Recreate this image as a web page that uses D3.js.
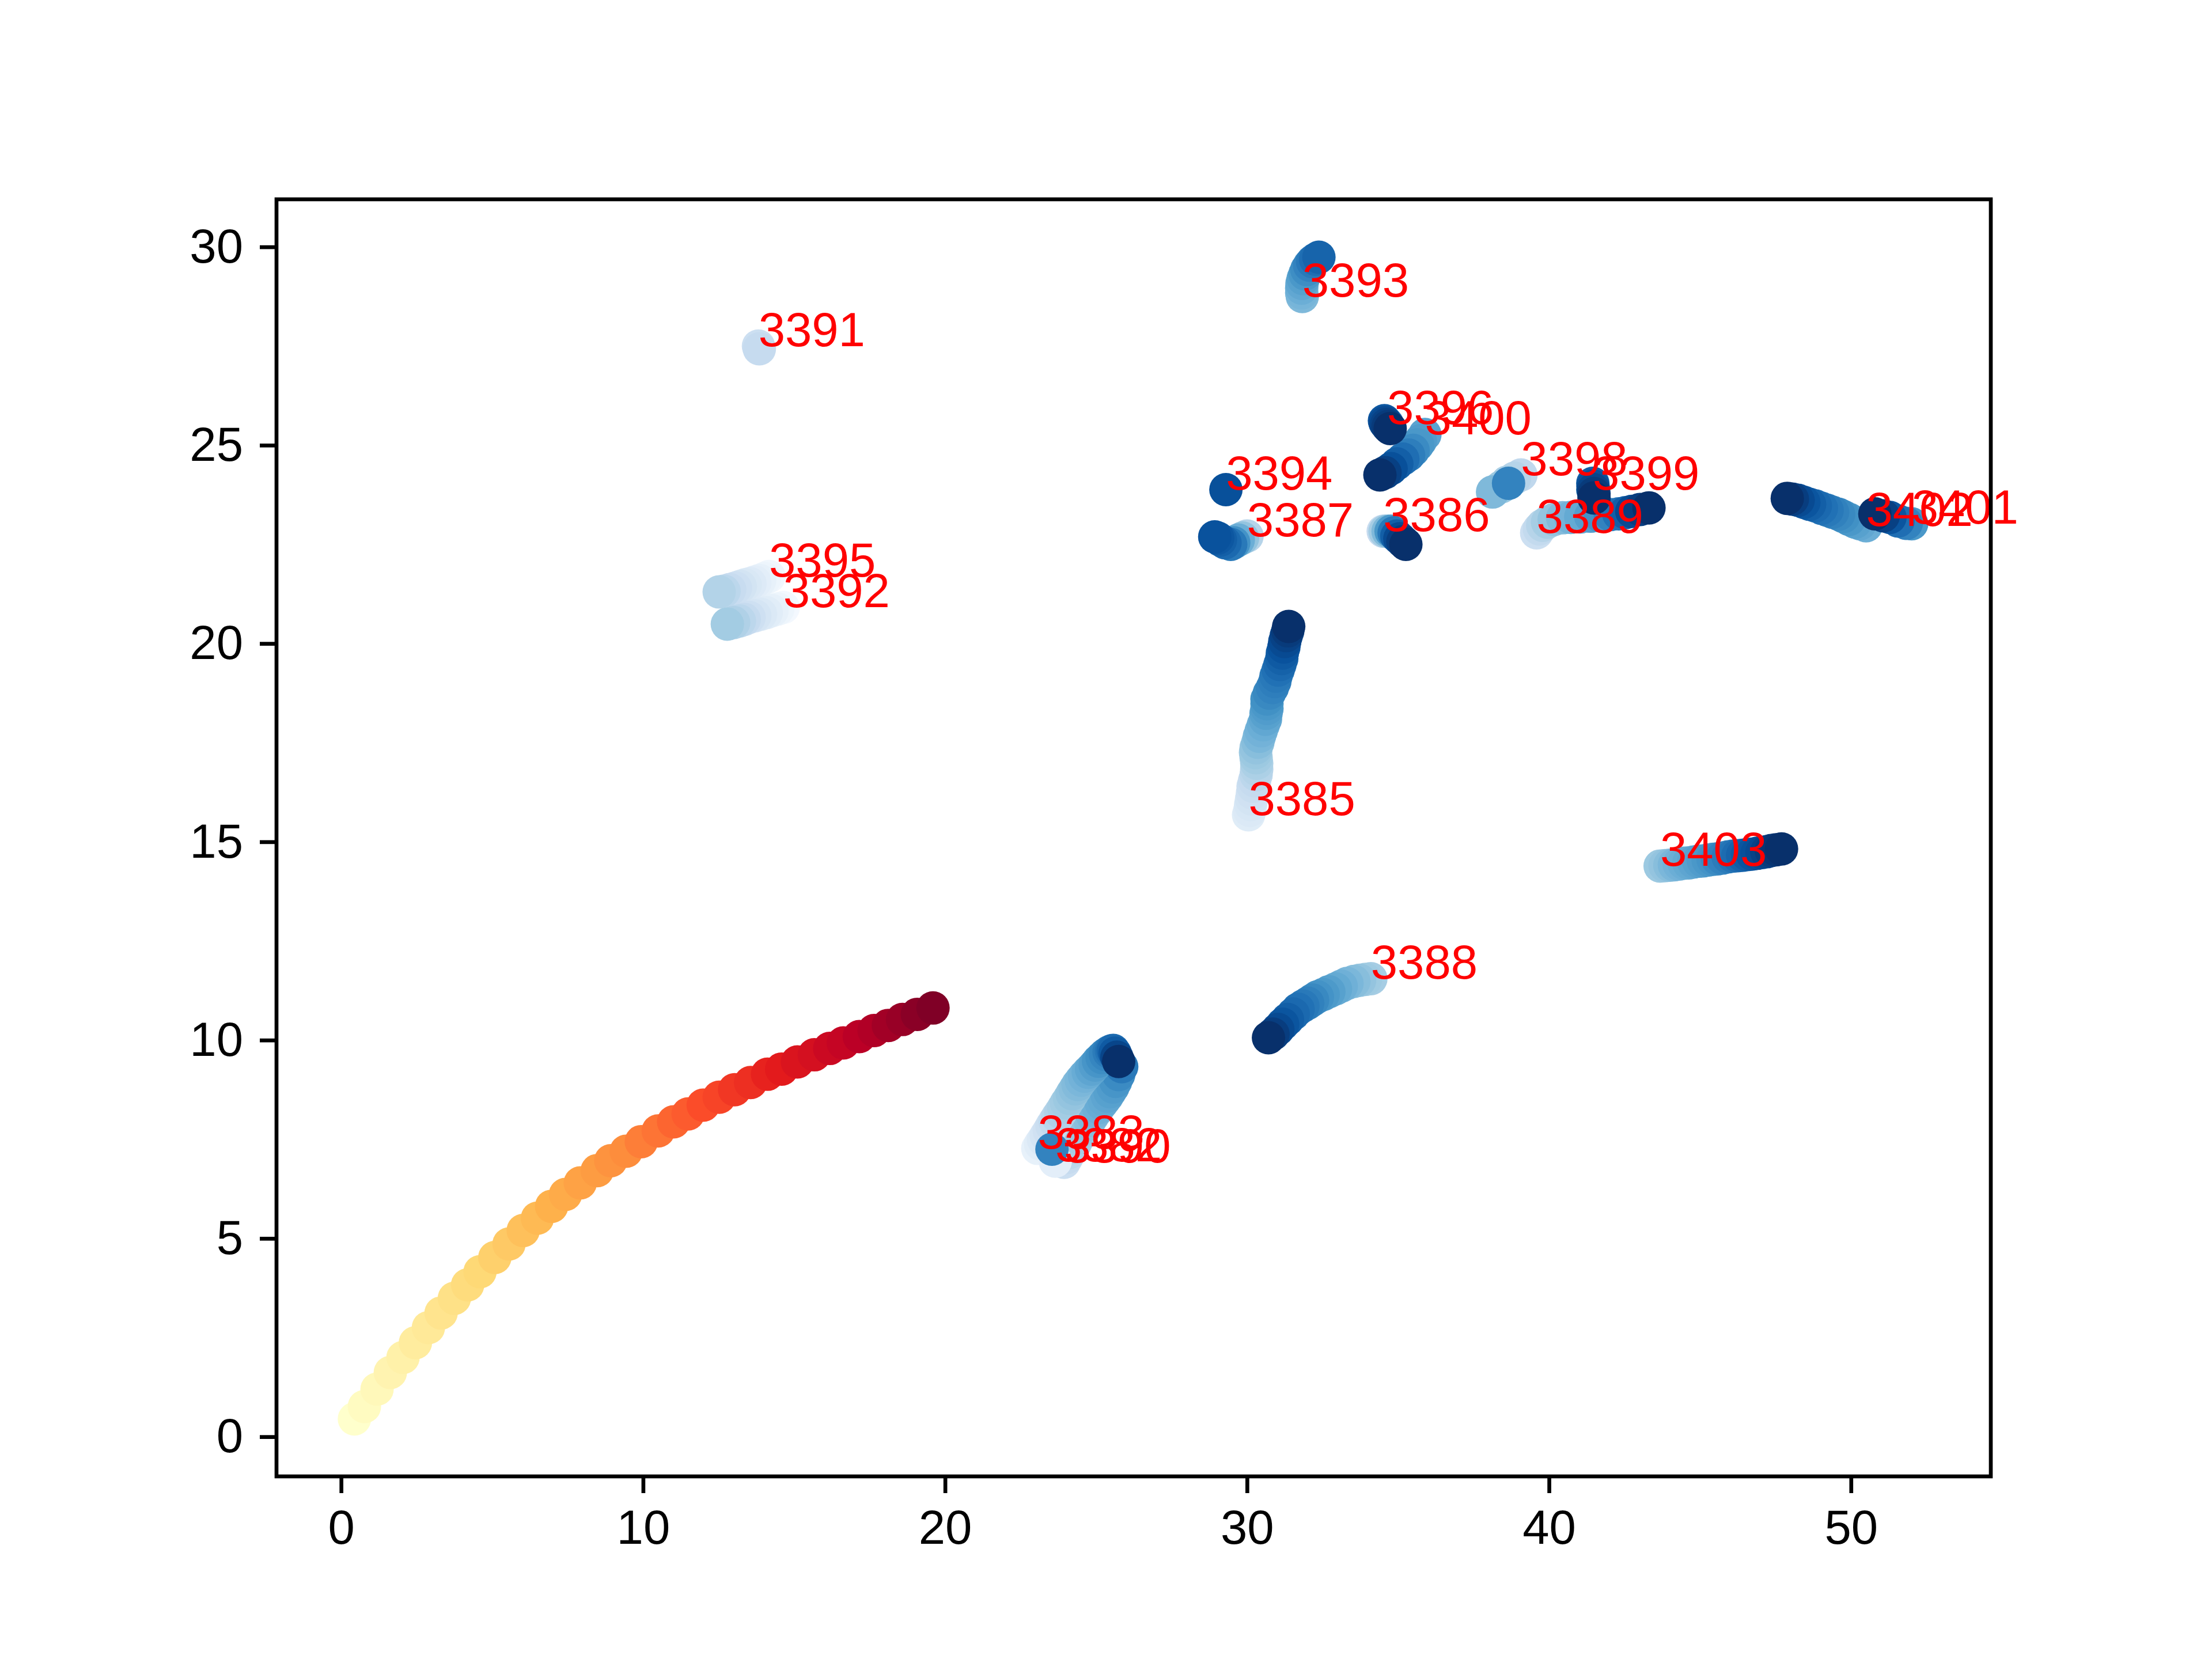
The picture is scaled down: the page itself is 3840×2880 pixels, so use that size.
<!DOCTYPE html>
<html>
<head>
<meta charset="utf-8">
<script src="https://cdn.jsdelivr.net/npm/d3@7"></script>
<style>
    html, body { margin: 0; padding: 0; background: #fff; }
    svg { display: block; }
    text { font-family: "Liberation Sans", Arial, sans-serif; }
</style>
</head>
<body>
<svg id="chart" width="3840" height="2880"></svg>
<script>
// reference track, shaded by position along it
const mainX = [0.44,0.77,1.19,1.63,2.05,2.46,2.89,3.31,3.75,4.19,4.60,5.09,5.56,6.03,6.50,6.97,7.43,7.92,8.48,8.93,9.44,9.94,10.50,11.01,11.49,11.99,12.52,13.03,13.56,14.12,14.59,15.11,15.67,16.18,16.63,17.16,17.65,18.12,18.59,19.08,19.60];
const mainY = [0.45,0.76,1.20,1.62,2.00,2.37,2.75,3.12,3.49,3.83,4.16,4.52,4.86,5.20,5.51,5.81,6.11,6.40,6.71,6.96,7.20,7.44,7.71,7.94,8.14,8.36,8.56,8.75,8.93,9.14,9.27,9.45,9.63,9.79,9.93,10.09,10.24,10.37,10.52,10.65,10.81];
const mainShade = [0,0.03,0.05,0.08,0.1,0.13,0.15,0.18,0.2,0.23,0.25,0.28,0.3,0.33,0.35,0.38,0.4,0.43,0.45,0.48,0.5,0.53,0.55,0.58,0.6,0.63,0.65,0.68,0.7,0.73,0.75,0.78,0.8,0.83,0.85,0.88,0.9,0.93,0.95,0.98,1];

// other tracks, in drawing order. the label sits on the first point of each
const trackIds = ["3388","3385","3403","3393","3395","3392","3391","3394","3387","3386","3400","3396","3398","3389","3399","3402","3401","3390","3383","3382"];
const trackX = [
    [34.10,33.92,33.73,33.54,33.31,33.12,32.93,32.71,32.52,32.33,32.17,32.01,31.85,31.69,31.53,31.34,31.18,31.02,30.86,30.71],
    [30.05,30.09,30.12,30.15,30.18,30.20,30.25,30.30,30.32,30.32,30.30,30.28,30.30,30.36,30.41,30.47,30.54,30.61,30.63,30.66,30.66,30.66,30.74,30.84,30.92,30.96,31.03,31.09,31.15,31.17,31.22,31.25,31.30,31.35,31.38],
    [43.68,43.84,44.00,44.15,44.31,44.47,44.63,44.79,44.95,45.11,45.27,45.43,45.58,45.74,45.93,46.09,46.25,46.41,46.57,46.73,46.89,47.05,47.21,47.36,47.52,47.70],
    [31.83,31.81,31.81,31.82,31.86,31.92,31.98,32.07,32.17,32.27,32.38],
    [14.17,14.02,13.86,13.70,13.54,13.38,13.22,13.06,12.87,12.68,12.52],
    [14.64,14.46,14.27,14.08,13.89,13.70,13.51,13.35,13.19,13.00,12.79],
    [13.82,13.85],
    [29.30],
    [30.00,29.85,29.71,29.56,29.46,29.27,29.12,29.03,28.93],
    [34.51,34.57,34.67,34.77,34.87,34.96,35.06,35.16,35.26],
    [35.89,35.74,35.65,35.50,35.35,35.16,34.96,34.77,34.57,34.40],
    [34.64,34.55,34.57,34.62,34.67,34.74],
    [39.07,38.86,38.61,38.42,38.13,38.66],
    [39.59,39.68,39.79,39.95,40.17,40.45,40.72,41.05,41.38,41.70,42.03,42.31,42.53,42.74,43.02,43.31],
    [41.45,41.45,41.46,41.47,41.49,41.49],
    [50.50,50.30,50.14,49.94,49.75,49.59,49.39,49.21,49.02,48.82,48.63,48.44,48.25,48.06,47.89],
    [52.01,51.83,51.56,51.29,51.07,50.79],
    [23.94,24.03,24.13,24.22,24.32,24.41,24.51,24.61,24.70,24.80,24.89,24.99,25.08,25.18,25.27,25.37,25.46,25.56,25.65,25.75,25.85],
    [23.07,23.16,23.26,23.35,23.45,23.54,23.64,23.73,23.83,23.93,24.02,24.12,24.21,24.31,24.40,24.51,24.62,24.74,24.85,24.97,25.08,25.20,25.31,25.43,25.51,25.57,25.63,25.69,25.75],
    [23.65,23.54]
];
const trackY = [
    [11.55,11.53,11.51,11.48,11.43,11.36,11.29,11.22,11.15,11.09,11.01,10.93,10.86,10.78,10.66,10.52,10.40,10.27,10.15,10.06],
    [15.68,15.79,15.94,16.08,16.23,16.40,16.54,16.69,16.83,16.98,17.12,17.25,17.37,17.51,17.66,17.80,17.95,18.09,18.24,18.36,18.48,18.60,18.75,18.89,19.04,19.18,19.33,19.47,19.62,19.76,19.91,20.05,20.20,20.32,20.43],
    [14.39,14.40,14.41,14.42,14.44,14.46,14.47,14.49,14.51,14.52,14.54,14.56,14.57,14.59,14.62,14.64,14.65,14.66,14.68,14.69,14.71,14.73,14.75,14.78,14.80,14.82],
    [28.75,28.84,28.96,29.08,29.20,29.32,29.43,29.54,29.63,29.69,29.74],
    [21.69,21.64,21.59,21.55,21.51,21.48,21.44,21.40,21.36,21.32,21.30],
    [20.91,20.87,20.83,20.78,20.74,20.70,20.66,20.61,20.57,20.53,20.49],
    [27.50,27.43],
    [23.88],
    [22.71,22.66,22.61,22.54,22.50,22.54,22.61,22.66,22.69],
    [22.83,22.83,22.83,22.83,22.79,22.71,22.64,22.57,22.50],
    [25.27,25.11,25.01,24.87,24.75,24.65,24.53,24.41,24.31,24.25],
    [25.54,25.62,25.57,25.52,25.47,25.42],
    [24.25,24.17,24.07,23.95,23.82,24.04],
    [22.79,22.89,22.98,23.06,23.13,23.17,23.18,23.19,23.21,23.22,23.25,23.27,23.30,23.33,23.38,23.42],
    [23.88,24.04,23.97,23.88,23.78,23.67],
    [22.97,23.02,23.06,23.13,23.20,23.26,23.31,23.36,23.41,23.47,23.51,23.56,23.61,23.64,23.66],
    [23.02,23.03,23.09,23.18,23.22,23.27],
    [6.92,7.04,7.17,7.29,7.41,7.54,7.66,7.76,7.87,7.98,8.09,8.20,8.30,8.40,8.49,8.59,8.70,8.82,8.96,9.13,9.33],
    [7.27,7.38,7.49,7.60,7.72,7.84,7.96,8.07,8.18,8.30,8.42,8.53,8.65,8.77,8.88,8.99,9.09,9.19,9.27,9.37,9.47,9.56,9.64,9.70,9.73,9.74,9.67,9.57,9.46],
    [6.95,7.25]
];
const trackShade = [
    [.35,.37,.40,.43,.46,.49,.52,.56,.59,.62,.66,.69,.72,.75,.78,.82,.86,.90,.95,1],
    [.12,.14,.16,.18,.20,.23,.25,.28,.30,.33,.36,.38,.40,.43,.46,.48,.50,.53,.56,.58,.60,.63,.66,.68,.70,.72,.75,.78,.81,.84,.87,.90,.93,.96,1],
    [.38,.40,.43,.46,.48,.50,.52,.54,.56,.58,.60,.62,.65,.68,.71,.74,.77,.80,.83,.86,.88,.90,.93,.96,.98,1],
    [.45,.47,.50,.53,.56,.60,.64,.68,.72,.76,.80],
    [.03,.05,.08,.10,.13,.15,.18,.21,.24,.28,.31],
    [.02,.05,.08,.11,.14,.17,.21,.25,.28,.32,.36],
    [.22,.25],
    [.88],
    [.30,.40,.50,.62,.72,.78,.82,.85,.87],
    [.25,.35,.45,.60,.72,.82,.90,.95,1],
    [.55,.58,.60,.65,.70,.76,.82,.88,.94,1],
    [.80,.85,.90,.93,.96,1],
    [.27,.30,.33,.38,.45,.68],
    [.22,.26,.30,.35,.40,.44,.48,.52,.57,.62,.68,.75,.82,.90,.95,1],
    [.78,.83,.88,.92,.96,1],
    [.50,.53,.56,.60,.63,.66,.69,.72,.75,.78,.82,.86,.90,.95,1],
    [.60,.68,.76,.86,.94,1],
    [.22,.25,.28,.31,.33,.35,.37,.39,.41,.43,.45,.47,.49,.51,.52,.54,.56,.58,.61,.65,.72],
    [.08,.11,.14,.17,.20,.23,.26,.29,.32,.34,.36,.38,.40,.42,.44,.46,.48,.51,.54,.57,.61,.64,.67,.71,.74,.78,.84,.92,1],
    [.10,.68]
];

const xTicks = [0, 10, 20, 30, 40, 50];
const yTicks = [0, 5, 10, 15, 20, 25, 30];

// colorbrewer stops, matplotlib interpolates these linearly
const blues = ["#f7fbff","#deebf7","#c6dbef","#9ecae1","#6baed6","#4292c6","#2171b5","#08519c","#08306b"];
const ylOrRd = ["#ffffcc","#ffeda0","#fed976","#feb24c","#fd8d3c","#fc4e2a","#e31a1c","#bd0026","#800026"];

(function () {
    const left = 480, right = 3456, top = 346, bottom = 2563;
    const lineWidth = 6.67, tickLength = 29, fontSize = 83.3, radius = 29;

    const svg = d3.select("#chart");
    const x = d3.scaleLinear().domain([-2.14, 54.63]).range([left, right]);
    const y = d3.scaleLinear().domain([-1.0, 31.2]).range([bottom, top]);

    const stops = d3.range(9).map(i => i / 8);
    const blueColor = d3.scaleLinear().domain(stops).range(blues);
    const redColor = d3.scaleLinear().domain(stops).range(ylOrRd);

    svg.append("g")
        .attr("class", "main-track")
        .selectAll("circle")
        .data(mainX)
        .enter().append("circle")
        .attr("cx", d => x(d))
        .attr("cy", (d, i) => y(mainY[i]))
        .attr("r", radius)
        .attr("fill", (d, i) => redColor(mainShade[i]));

    trackIds.forEach((id, k) => {
        svg.append("g")
            .attr("class", "track-" + id)
            .selectAll("circle")
            .data(trackX[k])
            .enter().append("circle")
            .attr("cx", d => x(d))
            .attr("cy", (d, i) => y(trackY[k][i]))
            .attr("r", radius)
            .attr("fill", (d, i) => blueColor(trackShade[k][i]));
    });

    svg.append("g")
        .attr("class", "labels")
        .selectAll("text")
        .data(trackIds)
        .enter().append("text")
        .attr("x", (d, k) => x(trackX[k][0]))
        .attr("y", (d, k) => y(trackY[k][0]))
        .attr("font-size", fontSize)
        .attr("fill", "#ff0000")
        .text(d => d);

    const xAxis = svg.append("g")
        .attr("transform", `translate(0,${bottom})`)
        .call(d3.axisBottom(x).tickValues(xTicks).tickFormat(d3.format("d")).tickSize(tickLength).tickPadding(29));
    const yAxis = svg.append("g")
        .attr("transform", `translate(${left},0)`)
        .call(d3.axisLeft(y).tickValues(yTicks).tickFormat(d3.format("d")).tickSize(tickLength).tickPadding(29));

    [xAxis, yAxis].forEach(axis => {
        axis.select(".domain").remove();
        axis.selectAll("line").attr("stroke", "#000").attr("stroke-width", lineWidth);
        axis.selectAll("text")
            .attr("font-size", fontSize)
            .attr("font-family", "Liberation Sans, Arial, sans-serif")
            .attr("fill", "#000");
    });

    svg.append("rect")
        .attr("x", left)
        .attr("y", top)
        .attr("width", right - left)
        .attr("height", bottom - top)
        .attr("fill", "none")
        .attr("stroke", "#000")
        .attr("stroke-width", lineWidth);
})();
</script>
</body>
</html>
